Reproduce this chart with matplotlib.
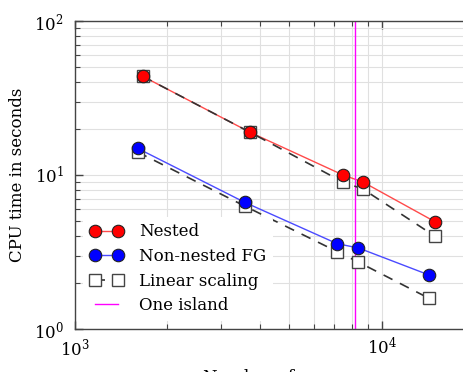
import matplotlib
matplotlib.use("Agg")
import matplotlib.pyplot as plt
from matplotlib.lines import Line2D
import numpy as np

# Data
nested_x = [1664, 3730, 7480, 8690, 14930]
nested_y = [43.7, 18.9, 10.0, 9.0, 4.97]
nested_lin_y = [43.7, 18.9, 9.0, 8.1, 4.0]

fg_x = [1600, 3573, 7160, 8395, 14290]
fg_y = [14.9, 6.65, 3.58, 3.36, 2.24]
fg_lin_y = [14.1, 6.29, 3.18, 2.72, 1.58]

one_island_x = 8192

plt.rcParams['font.family'] = 'DejaVu Serif'
plt.rcParams['mathtext.fontset'] = 'dejavuserif'
plt.rcParams['font.size'] = 12

fig = plt.figure(figsize=(4.63, 3.72), dpi=100)
ax = fig.add_axes([75/463, 1-329/372, (474-75)/463, (329-21)/372])
ax.set_xscale('log')
ax.set_yscale('log')
ax.set_xlim(1e3, 2e4)
ax.set_ylim(1, 100)

red_line = '#ff4a4a'
blue_line = '#4a4aff'
edge = '#222222'
dash_col = '#333333'

# colored lines
ax.plot(nested_x, nested_y, '-', color=red_line, lw=1.0, zorder=2)
ax.plot(fg_x, fg_y, '-', color=blue_line, lw=1.0, zorder=2)
# linear scaling
for ys, xs in ((nested_lin_y, nested_x), (fg_lin_y, fg_x)):
    ax.plot(xs, ys, linestyle=(0, (6, 5)), color=dash_col, lw=1.2,
            marker='s', ms=8.5, mfc='white', mec='#444444', mew=1.0, zorder=2.5)
# circles
ax.plot(nested_x, nested_y, 'o', ms=9, mfc='#ff0000', mec=edge, mew=0.8, zorder=3)
ax.plot(fg_x, fg_y, 'o', ms=9, mfc='#0000ff', mec=edge, mew=0.8, zorder=3)

ax.axvline(one_island_x, color='#ff00ff', lw=1.0, zorder=2.2)

ax.grid(True, which='both', color='#e0e0e0', lw=0.8, zorder=0)
ax.set_axisbelow(True)
ax.tick_params(which='both', direction='in', top=True, right=True, color='#444444')
ax.tick_params(which='major', length=6, width=1.0, labelsize=12)
ax.tick_params(axis='y', which='major', pad=8)
ax.tick_params(axis='x', which='major', pad=6)
ax.tick_params(which='minor', length=3.5, width=0.8)
for s in ax.spines.values():
    s.set_color('#444444')
    s.set_linewidth(1.0)

ax.set_ylabel('CPU time in seconds', fontsize=12, labelpad=6)
ax.set_xlabel('Number of cores', fontsize=12, labelpad=7)

handles = [
    Line2D([], [], color=red_line, lw=1.0, marker='o', ms=9, mfc='#ff0000', mec=edge, mew=0.8),
    Line2D([], [], color=blue_line, lw=1.0, marker='o', ms=9, mfc='#0000ff', mec=edge, mew=0.8),
    Line2D([], [], color=dash_col, lw=1.2, linestyle=(0, (6, 5)), marker='s', ms=8.5, mfc='white', mec='#444444', mew=1.0),
    Line2D([], [], color='#ff00ff', lw=1.0),
]
labels = ['Nested', 'Non-nested FG', 'Linear scaling', 'One island']
leg = ax.legend(handles, labels, loc='lower left', numpoints=2, fontsize=12,
                frameon=True, framealpha=1, edgecolor='none', facecolor='white',
                borderaxespad=0.5, labelspacing=0.45, handletextpad=0.95)
leg.get_frame().set_linewidth(0)

fig.savefig('out.png', dpi=100)
